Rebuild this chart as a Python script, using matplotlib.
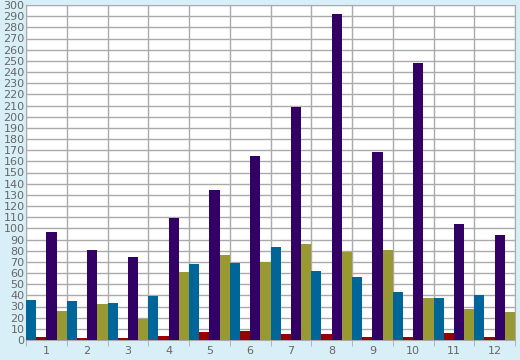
import numpy as np
import matplotlib.pyplot as plt

months = ['1', '2', '3', '4', '5', '6', '7', '8', '9', '10', '11', '12']
blue_vals = [36, 35, 33, 39, 68, 69, 83, 62, 56, 43, 38, 40]
red_vals = [3, 2, 2, 4, 7, 8, 5, 5, 3, 3, 6, 3]
purple_vals = [97, 81, 74, 109, 134, 165, 209, 292, 168, 248, 104, 94]
olive_vals = [26, 32, 19, 61, 76, 70, 86, 79, 81, 38, 28, 25]

series = [blue_vals, red_vals, purple_vals, olive_vals]
colors = ['#006699', '#990000', '#330066', '#999933']

bg = '#d9eff7'
grid_c = '#aaaaaa'
text_c = '#666666'

fig = plt.figure(figsize=(5.2, 3.6), dpi=100, facecolor=bg)
ax = fig.add_axes([26 / 520, 20 / 360, 489 / 520, 335 / 360])
ax.set_facecolor('white')

x = np.arange(len(months))
w = 0.25
for k, (vals, c) in enumerate(zip(series, colors)):
    ax.bar(x + k * w, vals, width=w, align='edge', color=c, linewidth=0, zorder=3)

ax.set_xlim(0, len(months))
ax.set_ylim(0, 300)
ax.set_yticks(np.arange(0, 301, 10))
ax.set_xticks(x + 0.5)
ax.set_xticklabels(months)
ax.set_xticks(np.arange(0, len(months) + 1), minor=True)

ax.grid(True, which='minor', axis='x', color=grid_c, linewidth=1, zorder=0)
ax.grid(True, which='major', axis='y', color=grid_c, linewidth=1, zorder=0)
ax.tick_params(axis='x', which='major', length=0, labelsize=8, colors=text_c, pad=4)
ax.tick_params(axis='x', which='minor', length=4, color=grid_c)
ax.tick_params(axis='y', length=0, labelsize=8, colors=text_c, pad=1)
for s in ax.spines.values():
    s.set_color(grid_c)

fig.savefig('out.png', dpi=100, facecolor=bg)
